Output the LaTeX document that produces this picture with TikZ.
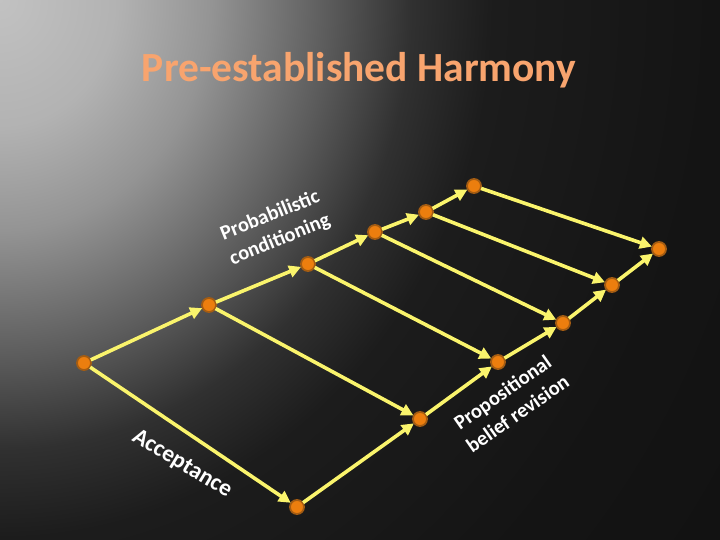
\documentclass[tikz,border=0pt]{standalone}
\usepackage{fontspec}
\setmainfont{Carlito}
\usetikzlibrary{arrows.meta,shadings}
\definecolor{bgdark}{rgb}{0.07,0.07,0.07}
\definecolor{titlecol}{HTML}{F8A46E}
\definecolor{linkyellow}{HTML}{FAF46C}
\definecolor{dotfill}{HTML}{EC7E0E}
\definecolor{dotring}{HTML}{A45C12}
% the fitted path's half-size corresponds to 25bp
\pgfdeclareradialshading{bgshade}{\pgfpoint{0bp}{0bp}}{%
  rgb(0bp)=(0.76,0.76,0.76);
  rgb(3.3bp)=(0.70,0.70,0.70);
  rgb(6bp)=(0.58,0.58,0.58);
  rgb(9.3bp)=(0.36,0.36,0.36);
  rgb(11.7bp)=(0.19,0.19,0.19);
  rgb(14bp)=(0.11,0.11,0.11);
  rgb(20bp)=(0.08,0.08,0.08);
  rgb(25bp)=(0.07,0.07,0.07);
  rgb(50bp)=(0.07,0.07,0.07)}
\tikzset{
  dot/.style={circle, fill=dotfill, draw=dotring, line width=1.8pt, minimum size=14pt, inner sep=0pt, outer sep=0.5pt},
  link/.style={draw=linkyellow, line width=3.6pt, -{Triangle[length=12pt,width=12pt]}},
  label/.style={text=white, font=\bfseries\fontsize{20.5}{26}\selectfont, align=center, inner sep=0pt},
  titletext/.style={font=\bfseries\fontsize{41.5}{46}\selectfont, inner sep=0pt, anchor=base}
}
\begin{document}
\begin{tikzpicture}[x=1pt,y=-1pt]
\useasboundingbox (0,0) rectangle (720,540);
\fill[bgdark] (0,0) rectangle (720,540);
\begin{scope}
  \clip (0,0) rectangle (720,540);
  \shade[shading=bgshade] (0,0) ellipse [x radius=880, y radius=960];
\end{scope}
% title
\node[titletext, text=titlecol] (title) at (359,82) {Pre-established Harmony};
% upper chain
\node[dot] (a0) at (84,363) {};
\node[dot] (a1) at (209,305) {};
\node[dot] (a2) at (308,264) {};
\node[dot] (a3) at (375,232) {};
\node[dot] (a4) at (426,212) {};
\node[dot] (a5) at (474,186) {};
% lower chain
\node[dot] (b0) at (297,507) {};
\node[dot] (b1) at (420,419) {};
\node[dot] (b2) at (498,362) {};
\node[dot] (b3) at (563,323) {};
\node[dot] (b4) at (612,285) {};
\node[dot] (b5) at (659,249) {};
% connectors
\foreach \i/\j in {0/1,1/2,2/3,3/4,4/5}{
  \draw[link] (a\i) -- (a\j);
  \draw[link] (b\i) -- (b\j);
}
\foreach \i in {0,...,5}{
  \draw[link] (a\i) -- (b\i);
}
% labels
\node[label, rotate=22] (prob) at (275,228) {Probabilistic\\conditioning};
\node[label, rotate=-31, font=\bfseries\fontsize{23.5}{28}\selectfont] (acc) at (182,464) {Acceptance};
\node[label, rotate=35] (prop) at (510,403) {Propositional\\belief revision};
\end{tikzpicture}
\end{document}
